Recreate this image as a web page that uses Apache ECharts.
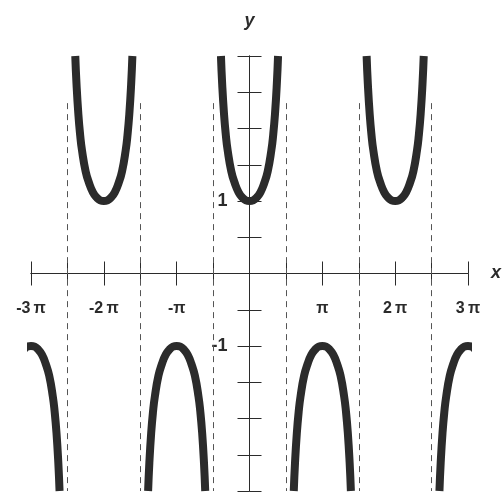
<!DOCTYPE html>
<html>
<head>
<meta charset="utf-8">
<script src="https://cdn.jsdelivr.net/npm/echarts@6/dist/echarts.min.js"></script>
<style>
html, body { margin: 0; padding: 0; background: #fff; }
#main { width: 504px; height: 495px; }
</style>
</head>
<body>
<div id="main"></div>
<script>
// x is measured in multiples of pi
var profileOffset = [0, 0.05, 0.1, 0.15, 0.2, 0.25, 0.3, 0.325, 0.35, 0.375, 0.392];
var profileHeight = [1, 1.01, 1.05, 1.12, 1.24, 1.41, 1.70, 1.91, 2.20, 2.61, 3.0];
var branchCenters = [-3, -2, -1, 0, 1, 2, 3];
var branchSigns = [-1, 1, -1, 1, -1, 1, -1];
var asymptotes = [-2.5, -1.5, -0.5, 0.5, 1.5, 2.5];
var asymptoteTop = 2.35;
var xTickValues = [-3, -2, -1, 1, 2, 3];
var xTickLabels = ['-3\u2009π', '-2\u2009π', '-π', 'π', '2\u2009π', '3\u2009π'];
var yTickValues = [1, -1];
var yTickLabels = ['1', '-1'];

var dom = document.getElementById('main');
var myChart = echarts.init(dom);
var ink = '#2b2b2b';
var W = 504, H = 495;
var gridL = 31, gridR = 36, gridT = 56, gridB = 4;
var halfW = (W - gridL - gridR) / 2;
var halfH = (H - gridT - gridB) / 2;

function branchData(c, s) {
    var pts = [];
    for (var i = profileOffset.length - 1; i > 0; i--) {
        pts.push([c - profileOffset[i], s * profileHeight[i]]);
    }
    for (var j = 0; j < profileOffset.length; j++) {
        pts.push([c + profileOffset[j], s * profileHeight[j]]);
    }
    return pts;
}

var series = [];
for (var k = 0; k < branchCenters.length; k++) {
    series.push({
        type: 'line',
        data: branchData(branchCenters[k], branchSigns[k]),
        smooth: true,
        showSymbol: false,
        silent: true,
        clip: true,
        lineStyle: { color: ink, width: 8 },
        z: 5
    });
}
series.push({
    type: 'line',
    data: [],
    silent: true,
    markLine: {
        symbol: 'none',
        silent: true,
        label: { show: false },
        lineStyle: { color: '#555', width: 1, type: [6, 5] },
        data: asymptotes.map(function (a) {
            return [{ coord: [a, asymptoteTop] }, { coord: [a, -3] }];
        })
    }
});

function axisBase() {
    return {
        type: 'value', min: -3, max: 3, interval: 0.5,
        splitLine: { show: false },
        axisLine: { onZero: false, lineStyle: { color: ink, width: 1 } },
        axisTick: { length: 12, lineStyle: { color: ink, width: 1 } }
    };
}
var nameStyle = { fontFamily: 'Liberation Sans', fontSize: 18, fontWeight: 'bold', fontStyle: 'italic', color: ink };

option = {
    animation: false,
    backgroundColor: '#fff',
    grid: { left: gridL, right: gridR, top: gridT, bottom: gridB, outerBoundsMode: 'none', containLabel: false },
    xAxis: [
        Object.assign(axisBase(), {
            position: 'bottom',
            offset: -halfH,
            name: 'x',
            nameLocation: 'end',
            nameGap: 23,
            nameTextStyle: Object.assign({ verticalAlign: 'middle' }, nameStyle),
            axisLabel: {
                fontFamily: 'Liberation Sans', fontSize: 16, fontWeight: 'bold', color: ink,
                margin: 27,
                showMinLabel: true,
                showMaxLabel: true,
                formatter: function (v) {
                    var i = xTickValues.indexOf(v);
                    return i >= 0 ? xTickLabels[i] : '';
                }
            }
        }),
        Object.assign(axisBase(), { position: 'top', offset: -halfH, axisLabel: { show: false } })
    ],
    yAxis: [
        Object.assign(axisBase(), {
            position: 'left',
            offset: -halfW,
            name: 'y',
            nameLocation: 'end',
            nameGap: 26,
            nameTextStyle: nameStyle,
            axisLabel: {
                fontFamily: 'Liberation Sans', fontSize: 18, fontWeight: 'bold', color: ink,
                margin: 22,
                formatter: function (v) {
                    var i = yTickValues.indexOf(v);
                    return i >= 0 ? yTickLabels[i] : '';
                }
            }
        }),
        Object.assign(axisBase(), { position: 'right', offset: -halfW, axisLabel: { show: false } })
    ],
    series: series
};

if (option && typeof option === 'object') {
    myChart.setOption(option, true);
}
</script>
</body>
</html>
